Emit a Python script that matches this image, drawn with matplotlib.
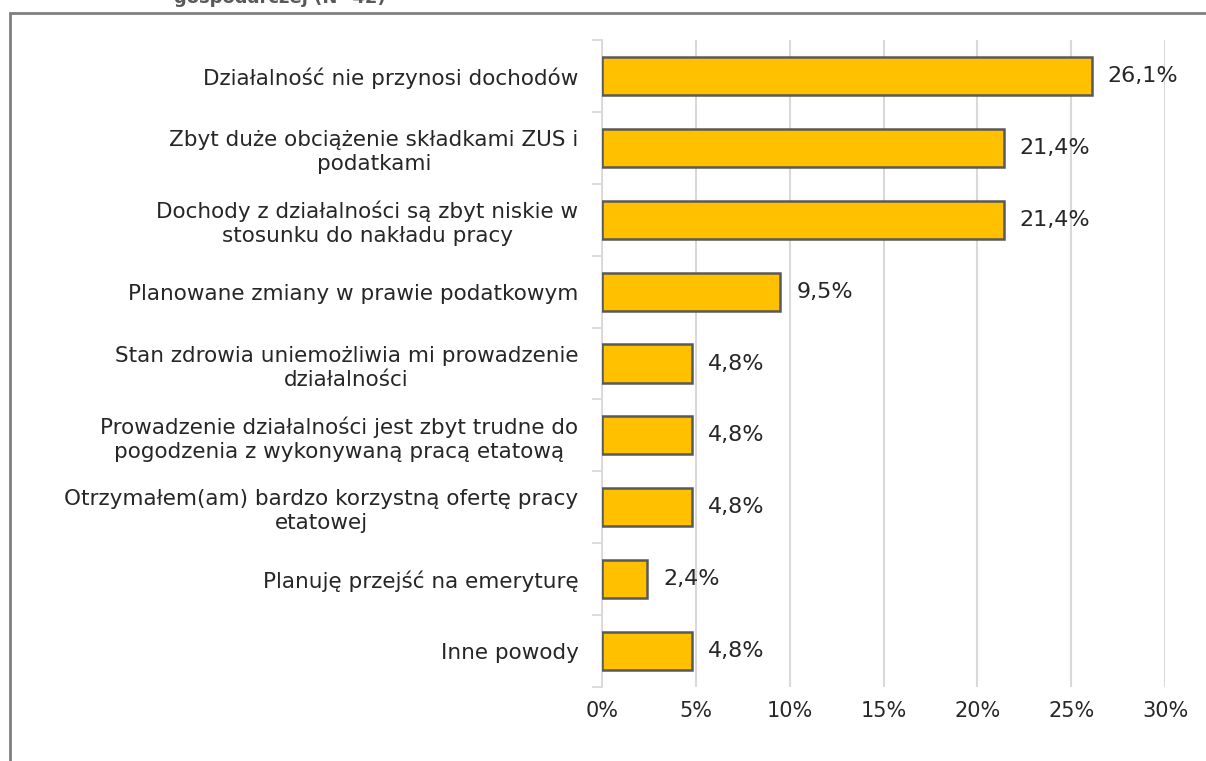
import matplotlib.pyplot as plt
from matplotlib.patches import Rectangle
from matplotlib.ticker import FixedLocator

categories = [
    "Działalność nie przynosi dochodów",
    "Zbyt duże obciążenie składkami ZUS i\npodatkami",
    "Dochody z działalności są zbyt niskie w\nstosunku do nakładu pracy",
    "Planowane zmiany w prawie podatkowym",
    "Stan zdrowia uniemożliwia mi prowadzenie\ndziałalności",
    "Prowadzenie działalności jest zbyt trudne do\npogodzenia z wykonywaną pracą etatową",
    "Otrzymałem(am) bardzo korzystną ofertę pracy\netatowej",
    "Planuję przejść na emeryturę",
    "Inne powody",
]
values = [26.1, 21.4, 21.4, 9.5, 4.8, 4.8, 4.8, 2.4, 4.8]
x_ticks = [0, 5, 10, 15, 20, 25, 30]

plt.rcParams["font.family"] = ["DejaVu Sans"]

fig = plt.figure(figsize=(12.06, 7.61), dpi=100)
ax = fig.add_axes([602 / 1206, 74 / 761, 563 / 1206, 647 / 761])

pos = list(range(len(categories)))
ax.barh(pos, values, height=0.53, color="#FFC000", edgecolor="#595959", linewidth=1.8, zorder=3)

for i, v in enumerate(values):
    ax.text(v + 0.85, i, f"{v:.1f}%".replace(".", ","), ha="left", va="center",
            fontsize=16, color="#262626")

ax.set_xlim(0, 30)
ax.set_ylim(len(categories) - 0.5, -0.5)
ax.set_xticks(x_ticks)
ax.set_xticklabels([f"{t}%" for t in x_ticks], fontsize=15, color="#262626")
ax.set_yticks(pos)
ax.set_yticklabels(categories, fontsize=15.5, color="#262626", multialignment="center",
                   linespacing=1.25)
ax.yaxis.set_minor_locator(FixedLocator([p - 0.5 for p in range(len(categories) + 1)]))
ax.tick_params(axis="y", which="major", length=0, pad=17)
ax.tick_params(axis="y", which="minor", length=7, color="#d9d9d9", width=1.3)
ax.tick_params(axis="x", length=0, pad=10)

ax.grid(axis="x", color="#d9d9d9", linewidth=1.5, zorder=0)
for side in ["top", "right", "bottom"]:
    ax.spines[side].set_visible(False)
ax.spines["left"].set_color("#d9d9d9")
ax.spines["left"].set_linewidth(1.3)

# outer frame, cut off at the right and bottom edges
fig.patches.append(Rectangle((9.5 / 1206, -0.1), 1.2, (761 - 13) / 761 + 0.1,
                             transform=fig.transFigure, fill=False,
                             edgecolor="#7f7f7f", linewidth=2))

# title, mostly cut off by the top edge as in the source
fig.text(280 / 1206, 1 - 3 / 761, "gospodarczej (N=42)", ha="center", va="baseline",
         fontsize=13, fontweight="bold", color="#595959")

fig.savefig("out.png", dpi=100)
